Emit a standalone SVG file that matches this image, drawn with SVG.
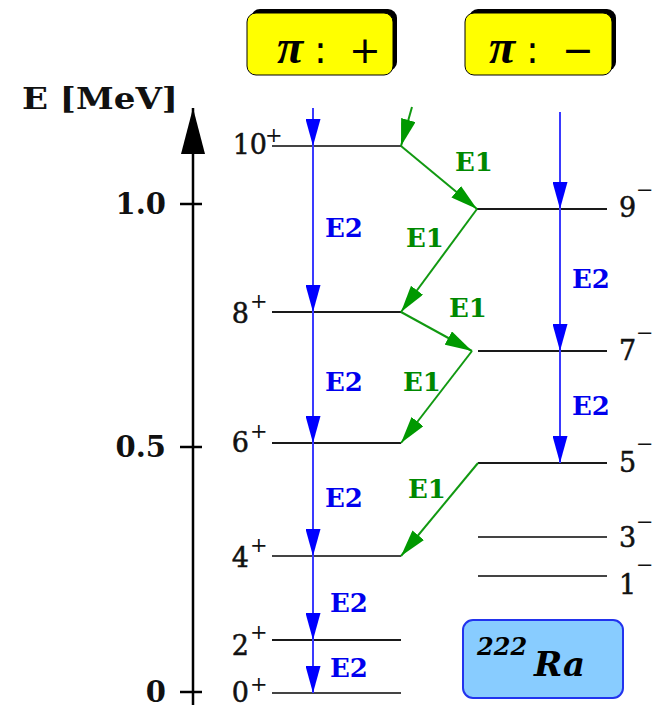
<svg xmlns="http://www.w3.org/2000/svg" width="654" height="708" viewBox="0 0 654 708">
<style>
.lv{stroke:#444;stroke-width:2;fill:none}
.lvd{stroke:#1a1a1a;stroke-width:2;fill:none}
.lab{font-family:"DejaVu Serif",serif;font-size:27px;fill:#111;stroke:#111;stroke-width:0.5}
.sup{font-family:"DejaVu Serif",serif;font-size:21px;fill:#111}
.tick{font-family:"DejaVu Serif",serif;font-weight:bold;font-size:29px;fill:#111}
.e2{font-family:"DejaVu Serif",serif;font-weight:bold;font-size:26px;fill:#0000ee}
.e1{font-family:"DejaVu Serif",serif;font-weight:bold;font-size:26px;fill:#008800}
.bl{stroke:#3a3aff;stroke-width:2;fill:none;marker-end:url(#ab)}
.gr{stroke:#119911;stroke-width:2;fill:none;marker-end:url(#ag)}
.pi{font-family:"Liberation Serif",serif;font-style:italic;font-weight:bold;font-size:48px;fill:#000}
.op{font-family:"DejaVu Sans",sans-serif;font-size:38px;fill:#000}
</style>
<defs>
<marker id="ab" markerUnits="userSpaceOnUse" markerWidth="27" markerHeight="15" refX="27" refY="7.5" orient="auto"><path d="M0,0 L27,7.5 L0,15 z" fill="#0000ff"/></marker>
<marker id="ag" markerUnits="userSpaceOnUse" markerWidth="27" markerHeight="15" refX="27" refY="7.5" orient="auto"><path d="M0,0 L27,7.5 L0,15 z" fill="#009900"/></marker>
<marker id="ax" markerUnits="userSpaceOnUse" markerWidth="46" markerHeight="24" refX="46" refY="12" orient="auto"><path d="M0,0 L46,12 L0,24 z" fill="#000"/></marker>
</defs>

<g id="parity-plus">
<rect x="251" y="9" width="146" height="62" rx="9" fill="#000"/>
<rect x="247" y="13" width="146" height="62" rx="9" fill="#ffff00" stroke="#000" stroke-width="1"/>
<text class="pi" x="277" y="63">π</text>
<text class="op" x="314" y="63">:</text>
<text class="op" x="349" y="63">+</text>
</g>
<g id="parity-minus">
<rect x="469" y="9" width="147" height="62" rx="9" fill="#000"/>
<rect x="465" y="13" width="147" height="62" rx="9" fill="#ffff00" stroke="#000" stroke-width="1"/>
<text class="pi" x="489" y="63">π</text>
<text class="op" x="526" y="63">:</text>
<text class="op" x="562" y="63">−</text>
</g>

<g id="axis">
<line x1="193" y1="705" x2="193" y2="108" stroke="#000" stroke-width="2.5" marker-end="url(#ax)"/>
<line x1="180" y1="204" x2="202" y2="204" stroke="#000" stroke-width="2.5"/>
<line x1="180" y1="447" x2="202" y2="447" stroke="#000" stroke-width="2.5"/>
<line x1="180" y1="692" x2="202" y2="692" stroke="#000" stroke-width="2.5"/>
<text class="tick" x="22" y="109" font-size="32" textLength="156" lengthAdjust="spacingAndGlyphs">E [MeV]</text>
<text class="tick" x="166" y="214" text-anchor="end">1.0</text>
<text class="tick" x="166" y="457" text-anchor="end">0.5</text>
<text class="tick" x="166" y="702" text-anchor="end">0</text>
</g>

<g id="level-10p"><line class="lv" x1="272" y1="146" x2="401" y2="146"/><text class="lab" x="267" y="154" text-anchor="end">10</text><text class="sup" x="265" y="142">+</text></g>
<g id="level-8p"><line class="lvd" x1="272" y1="312" x2="401" y2="312"/><text class="lab" x="249" y="323" text-anchor="end">8</text><text class="sup" x="250" y="308">+</text></g>
<g id="level-6p"><line class="lvd" x1="272" y1="443" x2="401" y2="443"/><text class="lab" x="249" y="452" text-anchor="end">6</text><text class="sup" x="250" y="438">+</text></g>
<g id="level-4p"><line class="lv" x1="272" y1="556" x2="401" y2="556"/><text class="lab" x="249" y="567" text-anchor="end">4</text><text class="sup" x="250" y="552">+</text></g>
<g id="level-2p"><line class="lvd" x1="272" y1="640" x2="401" y2="640"/><text class="lab" x="249" y="655" text-anchor="end">2</text><text class="sup" x="250" y="639">+</text></g>
<g id="level-0p"><line class="lv" x1="272" y1="693" x2="401" y2="693"/><text class="lab" x="249" y="702" text-anchor="end">0</text><text class="sup" x="250" y="691">+</text></g>

<g id="level-9m"><line class="lvd" x1="477" y1="209" x2="607" y2="209"/><text class="lab" x="619" y="217">9</text><text class="sup" x="636" y="197">−</text></g>
<g id="level-7m"><line class="lvd" x1="478" y1="351" x2="607" y2="351"/><text class="lab" x="619" y="360">7</text><text class="sup" x="636" y="340">−</text></g>
<g id="level-5m"><line class="lvd" x1="478" y1="463" x2="607" y2="463"/><text class="lab" x="619" y="472">5</text><text class="sup" x="636" y="451">−</text></g>
<g id="level-3m"><line class="lv" x1="478" y1="537" x2="607" y2="537"/><text class="lab" x="619" y="547">3</text><text class="sup" x="636" y="529">−</text></g>
<g id="level-1m"><line class="lv" x1="478" y1="576" x2="607" y2="576"/><text class="lab" x="619" y="594">1</text><text class="sup" x="636" y="572">−</text></g>

<g id="nucleus">
<rect x="463" y="620" width="160" height="78" rx="10" fill="#88ccff" stroke="#2233ee" stroke-width="2"/>
<text x="477" y="655" font-family="DejaVu Serif,serif" font-weight="bold" font-style="italic" font-size="24" fill="#000">222</text>
<text x="534" y="676" font-family="DejaVu Serif,serif" font-weight="bold" font-style="italic" font-size="34" fill="#000">Ra</text>
</g>

<g id="connectors">
<line class="bl" x1="313" y1="108" x2="313" y2="146"/>
<line class="bl" x1="313" y1="146" x2="313" y2="312"/>
<line class="bl" x1="313" y1="312" x2="313" y2="443"/>
<line class="bl" x1="313" y1="443" x2="313" y2="556"/>
<line class="bl" x1="313" y1="556" x2="313" y2="640"/>
<line class="bl" x1="313" y1="640" x2="313" y2="693"/>
<line class="bl" x1="560" y1="112" x2="560" y2="209"/>
<line class="bl" x1="560" y1="209" x2="560" y2="351"/>
<line class="bl" x1="560" y1="351" x2="560" y2="463"/>
<line class="gr" x1="412" y1="107" x2="401" y2="146"/>
<line class="gr" x1="401" y1="146" x2="477" y2="209"/>
<line class="gr" x1="477" y1="209" x2="401" y2="312"/>
<line class="gr" x1="401" y1="312" x2="472" y2="351"/>
<line class="gr" x1="472" y1="351" x2="401" y2="443"/>
<line class="gr" x1="478" y1="463" x2="401" y2="556"/>
<text class="e2" x="325" y="237">E2</text>
<text class="e2" x="325" y="391">E2</text>
<text class="e2" x="325" y="507">E2</text>
<text class="e2" x="330" y="612">E2</text>
<text class="e2" x="330" y="677">E2</text>
<text class="e2" x="572" y="288">E2</text>
<text class="e2" x="572" y="415">E2</text>
<text class="e1" x="455" y="171">E1</text>
<text class="e1" x="406" y="247">E1</text>
<text class="e1" x="449" y="317">E1</text>
<text class="e1" x="403" y="391">E1</text>
<text class="e1" x="408" y="498">E1</text>
</g>
</svg>
